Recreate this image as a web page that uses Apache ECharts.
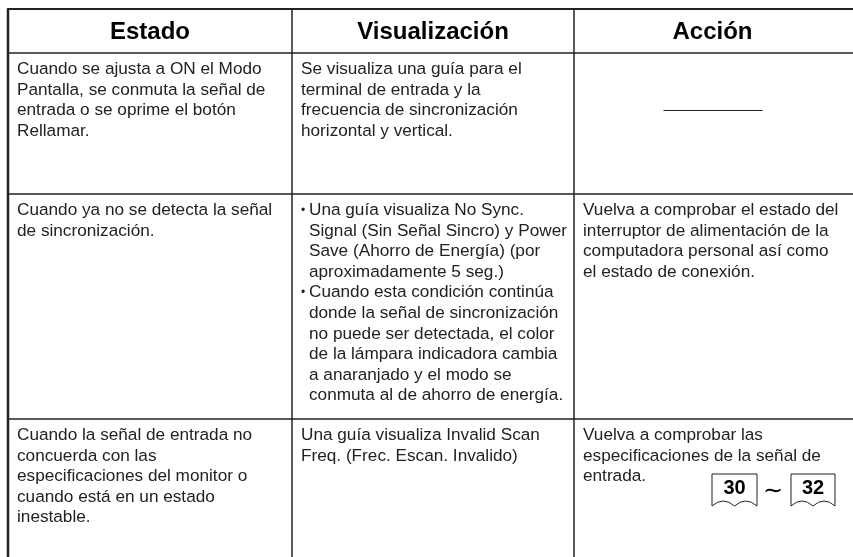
<!DOCTYPE html>
<html>
<head>
<meta charset="utf-8">
<script src="https://cdn.jsdelivr.net/npm/echarts@6/dist/echarts.min.js"></script>
<style>html,body{margin:0;padding:0;background:#fff}#c{width:853px;height:557px}</style>
</head>
<body>
<div id="c"></div>
<script>
// ---- data ----
var headers = ["Estado", "Visualización", "Acción"];
var estado = [
  "Cuando se ajusta a ON el Modo\nPantalla, se conmuta la señal de\nentrada o se oprime el botón\nRellamar.",
  "Cuando ya no se detecta la señal\nde sincronización.",
  "Cuando la señal de entrada no\nconcuerda con las\nespecificaciones del monitor o\ncuando está en un estado\ninestable."
];
var visualizacion = [
  ["Se visualiza una guía para el\nterminal de entrada y la\nfrecuencia de sincronización\nhorizontal y vertical."],
  ["Una guía visualiza No Sync.\nSignal (Sin Señal Sincro) y Power\nSave (Ahorro de Energía) (por\naproximadamente 5 seg.)",
   "Cuando esta condición continúa\ndonde la señal de sincronización\nno puede ser detectada, el color\nde la lámpara indicadora cambia\na anaranjado y el modo se\nconmuta al de ahorro de energía."],
  ["Una guía visualiza Invalid Scan\nFreq. (Frec. Escan. Invalido)"]
];
var bulleted = [false, true, false];
var accion = [
  null,
  "Vuelva a comprobar el estado del\ninterruptor de alimentación de la\ncomputadora personal así como\nel estado de conexión.",
  "Vuelva a comprobar las\nespecificaciones de la señal de\nentrada."
];
var pageRefs = ["30", "32"];

(function () {
  // ---- layout ----
  var W = 853, H = 557;
  var colX = [8, 292, 574, W];
  var rowY = [9, 53, 194, 419];
  var LH = 20.6;
  var FONT = "Liberation Sans, Arial, Helvetica, sans-serif";
  var BODY = 17.2;
  var INK = "#222";
  var LINE = "#222";

  var g = [];
  function addLine(x1, y1, x2, y2, w) {
    g.push({type: "line", shape: {x1: x1, y1: y1, x2: x2, y2: y2}, style: {stroke: LINE, lineWidth: w || 1.5}, silent: true});
  }
  function addCurve(x1, y1, cx, cy, x2, y2) {
    g.push({type: "bezierCurve", shape: {x1: x1, y1: y1, cpx1: cx, cpy1: cy, x2: x2, y2: y2}, style: {stroke: LINE, lineWidth: 1, fill: null}, silent: true});
  }
  function addText(str, x, y, opts) {
    opts = opts || {};
    g.push({type: "text", x: x, y: y, silent: true, style: {
      text: str, fill: opts.fill || INK, fontFamily: FONT, fontSize: opts.size || BODY,
      fontWeight: opts.weight || "normal", lineHeight: opts.lh || LH,
      align: opts.align || "left", verticalAlign: opts.va || "top"
    }});
  }

  // borders
  addLine(7, rowY[0], W, rowY[0], 2);
  addLine(colX[0], rowY[0], colX[0], H, 2.5);
  addLine(colX[1], rowY[0], colX[1], H, 1.5);
  addLine(colX[2], rowY[0], colX[2], H, 1.5);
  for (var r = 1; r < rowY.length; r++) addLine(colX[0], rowY[r], W, rowY[r], 1.5);

  // headers
  for (var c = 0; c < 3; c++) {
    var right = c === 2 ? 851 : colX[c + 1];
    addText(headers[c], (colX[c] + right) / 2, (rowY[0] + rowY[1]) / 2 + 1.5, {size: 24, weight: "bold", align: "center", va: "middle", lh: 28, fill: "#000"});
  }

  // body rows
  var padX = 9, padTop = 6;
  for (var i = 0; i < estado.length; i++) {
    var ty = rowY[i + 1] + padTop;
    addText(estado[i], colX[0] + padX, ty);
    var yy = ty;
    for (var p = 0; p < visualizacion[i].length; p++) {
      var para = visualizacion[i][p];
      if (bulleted[i]) {
        addText("•", colX[1] + 9, yy, {size: 12});
        addText(para, colX[1] + 17, yy);
      } else {
        addText(para, colX[1] + padX, yy);
      }
      yy += LH * para.split("\n").length;
    }
    if (accion[i]) {
      addText(accion[i], colX[2] + padX, ty);
    } else {
      var mid = (colX[2] + W) / 2;
      var cy = (rowY[i + 1] + rowY[i + 2]) / 2 - 13;
      addLine(mid - 50, cy, mid + 49, cy, 1);
    }
  }

  // page reference icons (book style)
  function book(x, y, w, h, label) {
    var b = y + h, m = x + w / 2;
    g.push({type: "polyline", silent: true, shape: {points: [[x, b], [x, y], [x + w, y], [x + w, b]]}, style: {stroke: LINE, lineWidth: 1, fill: null}});
    addCurve(x, b, x + w * 0.25, b - 10, m, b);
    addCurve(m, b, x + w * 0.75, b - 10, x + w, b);
    addText(label, m, y + 14, {size: 20, weight: "bold", align: "center", va: "middle", lh: 22, fill: "#000"});
  }
  book(712, 474, 45, 32, pageRefs[0]);
  addText("∼", 773, 491, {size: 24, align: "center", va: "middle", lh: 24, fill: "#000"});
  book(791, 474, 44, 32, pageRefs[1]);

  var chart = echarts.init(document.getElementById("c"), null, {renderer: "canvas"});
  chart.setOption({backgroundColor: "#fff", animation: false, graphic: g});
})();
</script>
</body>
</html>
